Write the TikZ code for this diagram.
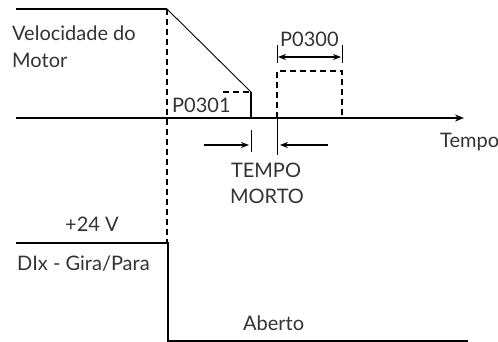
\documentclass[tikz,border=0pt]{standalone}
\usepackage{fontspec}
\setmainfont{Lato}
\usetikzlibrary{arrows.meta}

\begin{document}
\begin{tikzpicture}[x=1pt,y=-1pt, font=\fontsize{20}{22}\selectfont,
  lbl/.style={inner sep=0pt, anchor=base west, text=black!80},
  dsh/.style={dash pattern=on 6pt off 4pt, line width=1.6pt},
  thin line/.style={line width=0.9pt}]
\useasboundingbox (0,0) rectangle (498,342);
\draw[line width=1.4pt] (16,9) -- (167,9);
\draw[dsh] (167,9) -- (167,242);
\draw[thin line] (167,9) -- (251,92);
\draw[dsh] (223,92) -- (251,92);
\draw[line width=1.4pt] (251,92) -- (251,118);
\draw[line width=1.6pt, -{Stealth[length=9pt, width=7pt]}] (16,118) -- (464,118);
\draw[dsh] (277,118) -- (277,71) -- (342,71) -- (342,118);
\draw[thin line] (277,45) -- (277,63) (342,45) -- (342,63);
\draw[line width=1.2pt, {Stealth[length=8pt, width=6pt]}-{Stealth[length=8pt, width=6pt]}] (278,57) -- (341,57);
\draw[thin line] (251,130) -- (251,152);
\draw[thin line] (277,118) -- (277,155);
\draw[line width=1.4pt, -{Stealth[length=8pt, width=6pt]}] (204,145) -- (249,145);
\draw[line width=1.4pt, -{Stealth[length=8pt, width=6pt]}] (328,145) -- (280,145);
\draw[line width=1.2pt] (16,243) -- (168,243) -- (168,341) -- (468,341);
\node[lbl] (vel) at (12,41) {Velocidade do};
\node[lbl] (motor) at (12,68) {Motor};
\node[lbl] (p301) at (172,113) {P0301};
\node[lbl] (p300) at (280,47) {P0300};
\node[lbl] (tempo) at (440,147) {Tempo};
\node[lbl, anchor=base] (morto1) at (266,178) {TEMPO};
\node[lbl, anchor=base] (morto2) at (267,204) {MORTO};
\node[lbl] (volt) at (65,231) {+24 V};
\node[lbl] (dix) at (17,270) {DIx - Gira/Para};
\node[lbl] (aberto) at (243,330) {Aberto};
\end{tikzpicture}
\end{document}
